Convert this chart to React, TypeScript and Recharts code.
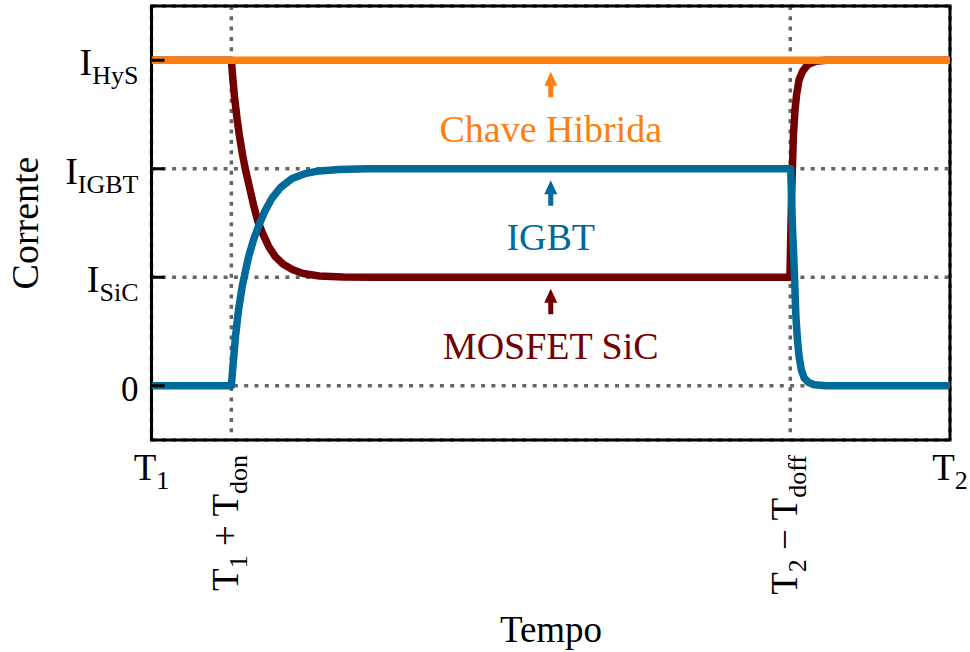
import {
  CartesianGrid,
  Line,
  LineChart,
  ReferenceArea,
  ReferenceDot,
  XAxis,
  YAxis,
} from 'recharts'

const SERIF = 'Liberation Serif, Times New Roman, DejaVu Serif, serif'

const ORANGE = '#ff7f0e'
const BLUE = '#006a98'
const RED = '#730000'
const GRID = '#666666'
const LINE_W = 7.5

// normalised time: T1 = 0, T2 = 1
const X_TICKS = [0, 0.1, 0.8, 1]
const Y_TICKS = [0, 1, 2, 3]

// [main, subscript, main, subscript]
const X_TICK_LABELS = [
  ['T', '1'],
  ['T', '1', ' + T', 'don'],
  ['T', '2', ' \u2212 T', 'doff'],
  ['T', '2'],
]
const Y_TICK_LABELS = [['0'], ['I', 'SiC'], ['I', 'IGBT'], ['I', 'HyS']]

// current levels: 0, I_SiC = 1, I_IGBT = 2, I_HyS = 3
const HYBRID_T = [0, 1]
const HYBRID_I = [3, 3]

const MOSFET_T = [
  0, 0.1, 0.102, 0.104, 0.107, 0.11, 0.114, 0.118, 0.123, 0.128, 0.133, 0.14, 0.147, 0.155,
  0.165, 0.177, 0.19, 0.21, 0.24, 0.28, 0.7995, 0.8005, 0.8015, 0.8028, 0.804, 0.806, 0.808,
  0.811, 0.8155, 0.822, 0.832, 0.845, 1,
]
const MOSFET_I = [
  3, 3, 2.82, 2.66, 2.47, 2.31, 2.13, 1.98, 1.82, 1.66, 1.52, 1.39, 1.28, 1.19, 1.12, 1.07,
  1.035, 1.012, 1.003, 1, 1, 1.35, 1.71, 2.05, 2.32, 2.55, 2.69, 2.82, 2.9, 2.96, 2.99, 3, 3,
]

const IGBT_T = [
  0, 0.1, 0.102, 0.105, 0.109, 0.1137, 0.118, 0.122, 0.128, 0.1345, 0.142, 0.151, 0.162, 0.176,
  0.192, 0.21, 0.235, 0.27, 0.8005, 0.8015, 0.803, 0.804, 0.8055, 0.807, 0.809, 0.811, 0.814,
  0.8175, 0.823, 0.83, 0.845, 1,
]
const IGBT_I = [
  0, 0, 0.18, 0.44, 0.7, 0.92, 1.07, 1.2, 1.35, 1.48, 1.61, 1.73, 1.83, 1.91, 1.955, 1.98, 1.993,
  2, 2, 1.75, 1.4, 1.25, 0.95, 0.64, 0.42, 0.27, 0.14, 0.07, 0.03, 0.01, 0, 0,
]

const NOTE_X = 0.5
const NOTE_LEVELS = [1, 2, 3]
const NOTE_LABELS = ['MOSFET SiC', 'IGBT', 'Chave Hibrida']
const NOTE_COLORS = [RED, BLUE, ORANGE]

const zip = (ts: number[], vs: number[]) => ts.map((t, i) => ({ t, v: vs[i] }))

function Parts({ parts, big, small }: { parts: string[]; big: number; small: number }) {
  return (
    <>
      {parts.map((p, i) => {
        const sub = i % 2 === 1
        const dy = i === 0 ? 0 : sub ? 9 : -9
        return (
          <tspan key={i} fontSize={sub ? small : big} dy={dy} style={{ whiteSpace: 'pre' }}>
            {p}
          </tspan>
        )
      })}
    </>
  )
}

function XTick(props: { x?: number; y?: number; index?: number }) {
  const { x = 0, y = 0, index = 0 } = props
  const parts = X_TICK_LABELS[index]
  if (index === 1 || index === 2) {
    const tx = x + 7
    const ty = y + 15
    return (
      <text
        x={tx}
        y={ty}
        transform={`rotate(-90 ${tx} ${ty})`}
        textAnchor="end"
        style={{ fontFamily: SERIF }}
        fill="#000"
      >
        <Parts parts={parts} big={37} small={26} />
      </text>
    )
  }
  return (
    <text x={x} y={y + 40} textAnchor="middle" style={{ fontFamily: SERIF }} fill="#000">
      <Parts parts={parts} big={37} small={26} />
    </text>
  )
}

function YTick(props: { x?: number; y?: number; index?: number }) {
  const { x = 0, y = 0, index = 0 } = props
  const parts = Y_TICK_LABELS[index]
  return (
    <g>
      <line x1={x + 13} x2={x + 26} y1={y} y2={y} stroke="#000" strokeWidth={3} />
      <text x={x} y={y + 15} textAnchor="end" style={{ fontFamily: SERIF }} fill="#000">
        <Parts parts={parts} big={parts.length > 1 ? 38 : 35} small={26} />
      </text>
    </g>
  )
}

function makeNote(label: string, color: string) {
  return function Note(props: { cx?: number; cy?: number }) {
    const { cx = 0, cy = 0 } = props
    const d = [
      `M${cx} ${cy + 11.5}`,
      `L${cx + 6.5} ${cy + 25.5}`,
      `L${cx + 2.5} ${cy + 25.5}`,
      `L${cx + 2.5} ${cy + 37}`,
      `L${cx - 2.5} ${cy + 37}`,
      `L${cx - 2.5} ${cy + 25.5}`,
      `L${cx - 6.5} ${cy + 25.5}`,
      'Z',
    ].join(' ')
    return (
      <g>
        <path d={d} fill={color} />
        <text
          x={cx}
          y={cy + 81.5}
          textAnchor="middle"
          style={{ fontFamily: SERIF }}
          fontSize={38}
          fill={color}
        >
          {label}
        </text>
      </g>
    )
  }
}

export default function App() {
  return (
    <div style={{ position: 'absolute', left: 0, top: 0, width: 970, height: 652, background: '#fff' }}>
      <LineChart width={970} height={652} margin={{ top: 6, right: 20, bottom: 12, left: 11.5 }}>
        <CartesianGrid stroke={GRID} strokeWidth={3.5} strokeDasharray="4 6.3" />
        <XAxis
          dataKey="t"
          type="number"
          domain={[0, 1]}
          ticks={X_TICKS}
          allowDataOverflow
          height={200}
          axisLine={false}
          tickLine={false}
          tickSize={0}
          tickMargin={0}
          tick={<XTick />}
          interval={0}
        />
        <YAxis
          type="number"
          domain={[-0.5, 3.5]}
          ticks={Y_TICKS}
          allowDataOverflow
          width={140}
          axisLine={false}
          tickLine={false}
          tickSize={0}
          tickMargin={13}
          tick={<YTick />}
          interval={0}
        />
        <Line
          data={zip(MOSFET_T, MOSFET_I)}
          dataKey="v"
          stroke={RED}
          strokeWidth={LINE_W}
          strokeLinejoin="round"
          dot={false}
          activeDot={false}
          isAnimationActive={false}
        />
        <Line
          data={zip(IGBT_T, IGBT_I)}
          dataKey="v"
          stroke={BLUE}
          strokeWidth={LINE_W}
          strokeLinejoin="round"
          dot={false}
          activeDot={false}
          isAnimationActive={false}
        />
        <Line
          data={zip(HYBRID_T, HYBRID_I)}
          dataKey="v"
          stroke={ORANGE}
          strokeWidth={LINE_W}
          dot={false}
          activeDot={false}
          isAnimationActive={false}
        />
        {NOTE_LEVELS.map((lvl, i) => (
          <ReferenceDot
            key={NOTE_LABELS[i]}
            x={NOTE_X}
            y={lvl}
            r={0}
            ifOverflow="visible"
            shape={makeNote(NOTE_LABELS[i], NOTE_COLORS[i]) as never}
          />
        ))}
        <ReferenceArea
          x1={0}
          x2={1}
          y1={-0.5}
          y2={3.5}
          fill="none"
          fillOpacity={0}
          stroke="#000"
          strokeWidth={3}
          ifOverflow="visible"
        />
        <text
          x={38}
          y={223}
          transform="rotate(-90 38 223)"
          textAnchor="middle"
          style={{ fontFamily: SERIF }}
          fontSize={38}
          fill="#000"
        >
          Corrente
        </text>
        <text x={551} y={642} textAnchor="middle" style={{ fontFamily: SERIF }} fontSize={37} fill="#000">
          Tempo
        </text>
      </LineChart>
    </div>
  )
}
